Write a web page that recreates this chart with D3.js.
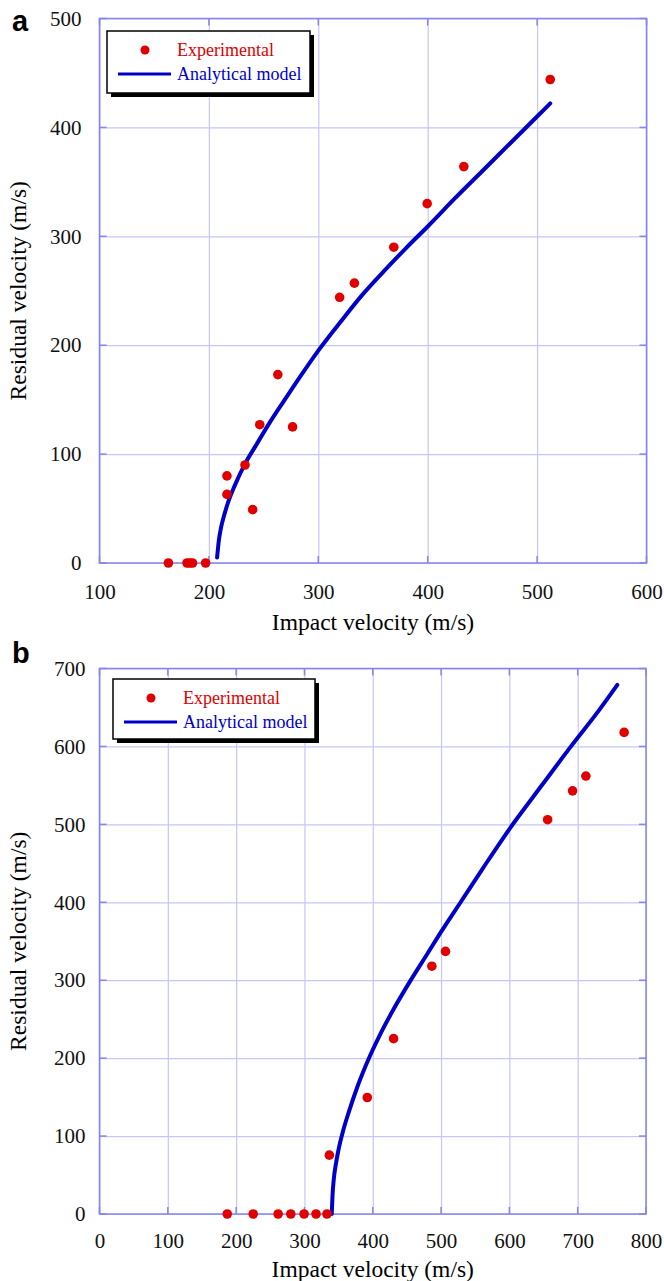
<!DOCTYPE html>
<html>
<head>
<meta charset="utf-8">
<style>
  body { margin: 0; background: #fff; }
  text { font-family: "Liberation Serif", "Times New Roman", serif; }
</style>
</head>
<body>
<svg width="664" height="1281"></svg>
<script src="https://cdn.jsdelivr.net/npm/d3@7"></script>
<script>
// ---- panel a data ----
var expA_vi = [163, 180, 182.5, 185, 197, 216.5, 216.5, 233, 240, 246.5, 263, 276.5, 319.5, 333, 369, 399.5, 433, 512];
var expA_vr = [0, 0, 0, 0, 0, 80, 63, 90, 49, 127, 173, 125, 244, 257, 290, 330, 364, 444];
var modelA_vi = [207.5, 209, 211, 214, 218, 224, 233, 243, 255, 268, 280, 300, 320, 340, 360, 380, 400, 425, 450, 475, 500, 512];
var modelA_vr = [5, 20, 32, 44, 57, 72, 91, 108, 128, 148, 166, 195, 221, 246, 268, 289, 309, 335, 360, 385, 410, 422];
var ticksA_x = [100, 200, 300, 400, 500, 600];
var ticksA_y = [0, 100, 200, 300, 400, 500];

// ---- panel b data ----
var expB_vi = [187, 225, 261.5, 280, 299.5, 317, 333, 336.5, 392, 430.5, 486.5, 506.5, 656, 692.5, 712, 768];
var expB_vr = [0, 0, 0, 0, 0, 0, 0, 75.5, 149.5, 225, 318, 337, 506, 543, 562, 618];
var modelB_vi = [340, 341, 343, 346, 350, 357, 365, 377, 396, 410, 430, 457, 480, 500, 530, 560, 600, 650, 691, 730, 758];
var modelB_vr = [0, 22, 45, 64, 83, 108, 131, 162, 203, 229, 262, 302, 334, 362, 402, 442, 494, 553, 601, 645, 679];
var ticksB_x = [0, 100, 200, 300, 400, 500, 600, 700, 800];
var ticksB_y = [0, 100, 200, 300, 400, 500, 600, 700];

var legendLabels = ["Experimental", "Analytical model"];

var svg = d3.select("svg");
var red = "#e00000", blue = "#0000c8", gridCol = "#c6c6f8", frameCol = "#8585ee";

function panel(o) {
  var x = d3.scaleLinear().domain(d3.extent(o.tx)).range([o.left, o.right]);
  var y = d3.scaleLinear().domain(d3.extent(o.ty)).range([o.bottom, o.top]);
  var g = svg.append("g");

  // grid
  g.append("g").attr("transform", "translate(0," + o.bottom + ")")
    .call(d3.axisBottom(x).tickValues(o.tx).tickSize(o.top - o.bottom).tickFormat(""))
    .call(function(a) { a.select(".domain").remove(); a.selectAll("line").attr("stroke", gridCol).attr("stroke-width", 1.2); });
  g.append("g").attr("transform", "translate(" + o.left + ",0)")
    .call(d3.axisLeft(y).tickValues(o.ty).tickSize(o.left - o.right).tickFormat(""))
    .call(function(a) { a.select(".domain").remove(); a.selectAll("line").attr("stroke", gridCol).attr("stroke-width", 1.2); });

  // inner ticks on the frame
  var tk = 7;
  [[o.bottom, -tk], [o.top, tk]].forEach(function(s) {
    g.selectAll(null).data(o.tx).enter().append("line")
      .attr("x1", function(d) { return x(d); }).attr("x2", function(d) { return x(d); })
      .attr("y1", s[0]).attr("y2", s[0] + s[1])
      .attr("stroke", frameCol).attr("stroke-width", 1.5);
  });
  [[o.left, tk], [o.right, -tk]].forEach(function(s) {
    g.selectAll(null).data(o.ty).enter().append("line")
      .attr("y1", function(d) { return y(d); }).attr("y2", function(d) { return y(d); })
      .attr("x1", s[0]).attr("x2", s[0] + s[1])
      .attr("stroke", frameCol).attr("stroke-width", 1.5);
  });

  g.append("rect").attr("x", o.left).attr("y", o.top)
    .attr("width", o.right - o.left).attr("height", o.bottom - o.top)
    .attr("fill", "none").attr("stroke", frameCol).attr("stroke-width", 1.5);

  // tick labels
  g.append("g").attr("transform", "translate(0," + o.bottom + ")")
    .call(d3.axisBottom(x).tickValues(o.tx).tickSize(0).tickPadding(o.xPad).tickFormat(d3.format("d")))
    .call(function(a) {
      a.select(".domain").remove();
      a.selectAll("text").attr("font-size", 21).attr("fill", "#111")
        .style("font-family", "'Liberation Serif', serif");
    });
  g.append("g").attr("transform", "translate(" + o.left + ",0)")
    .call(d3.axisLeft(y).tickValues(o.ty).tickSize(0).tickPadding(o.yPad).tickFormat(d3.format("d")))
    .call(function(a) {
      a.select(".domain").remove();
      a.selectAll("text").attr("font-size", 21).attr("fill", "#111")
        .style("font-family", "'Liberation Serif', serif");
    });

  // axis titles
  g.append("text").attr("x", (o.left + o.right) / 2).attr("y", o.xTitleY)
    .attr("text-anchor", "middle").attr("font-size", 23.5).text("Impact velocity (m/s)");
  g.append("text").attr("transform", "translate(" + o.yTitleX + "," + (o.top + o.bottom) / 2 + ") rotate(-90)")
    .attr("text-anchor", "middle").attr("font-size", 23.5).text("Residual velocity (m/s)");

  // model curve
  var line = d3.line().x(function(d) { return x(d[0]); }).y(function(d) { return y(d[1]); })
    .curve(d3.curveMonotoneX);
  g.append("path").datum(d3.zip(o.mvi, o.mvr)).attr("d", line)
    .attr("fill", "none").attr("stroke", blue).attr("stroke-width", 4).attr("stroke-linecap", "round");

  // experimental points
  g.selectAll(null).data(d3.zip(o.evi, o.evr)).enter().append("circle")
    .attr("cx", function(d) { return x(d[0]); }).attr("cy", function(d) { return y(d[1]); })
    .attr("r", 4.8).attr("fill", red);

  // legend
  var L = o.legend;
  g.append("rect").attr("x", L.x + 4).attr("y", L.y + 4).attr("width", L.w).attr("height", L.h).attr("fill", "#000");
  g.append("rect").attr("x", L.x).attr("y", L.y).attr("width", L.w).attr("height", L.h)
    .attr("fill", "#fff").attr("stroke", "#000").attr("stroke-width", 1.5);
  g.append("circle").attr("cx", L.x + 38).attr("cy", L.y + 19).attr("r", 4.5).attr("fill", red);
  g.append("line").attr("x1", L.x + 11).attr("x2", L.x + 64).attr("y1", L.y + 43).attr("y2", L.y + 43)
    .attr("stroke", blue).attr("stroke-width", 3);
  g.append("text").attr("x", L.x + 70).attr("y", L.y + 25).attr("font-size", 18).attr("fill", red).text(legendLabels[0]);
  g.append("text").attr("x", L.x + 70).attr("y", L.y + 49).attr("font-size", 18).attr("fill", blue).text(legendLabels[1]);

  // panel letter
  svg.append("text").attr("x", 12).attr("y", o.letterY)
    .style("font-family", "'Liberation Sans', Arial, sans-serif")
    .attr("font-weight", "bold").attr("font-size", 29).text(o.letter);
}

panel({
  letter: "a", letterY: 31,
  left: 99.5, right: 646.5, top: 18.5, bottom: 563,
  tx: ticksA_x, ty: ticksA_y, xPad: 21, yPad: 18, xTitleY: 630, yTitleX: 26,
  evi: expA_vi, evr: expA_vr, mvi: modelA_vi, mvr: modelA_vr,
  legend: { x: 107, y: 31, w: 203, h: 62 }
});

panel({
  letter: "b", letterY: 663,
  left: 99.5, right: 646, top: 668.5, bottom: 1214,
  tx: ticksB_x, ty: ticksB_y, xPad: 19, yPad: 14, xTitleY: 1277, yTitleX: 26,
  evi: expB_vi, evr: expB_vr, mvi: modelB_vi, mvr: modelB_vr,
  legend: { x: 113, y: 679, w: 202, h: 60 }
});
</script>
</body>
</html>
